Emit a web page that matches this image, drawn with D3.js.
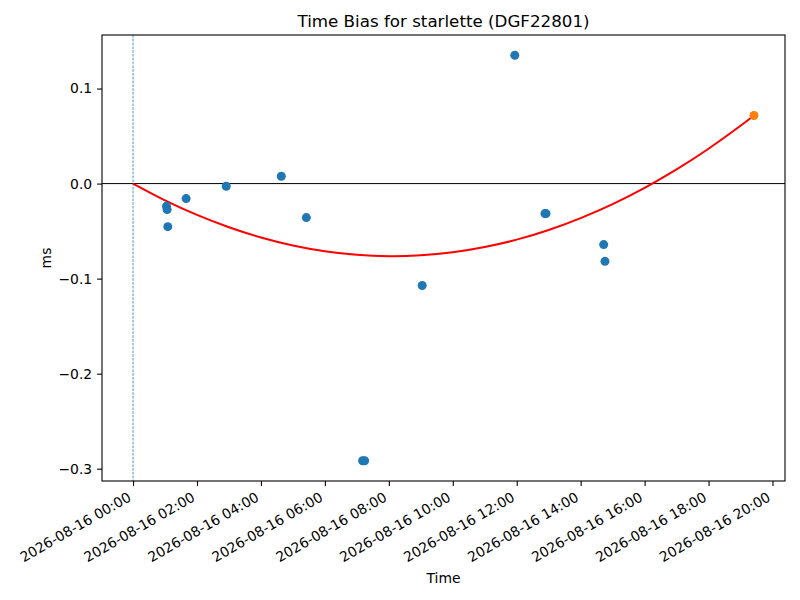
<!DOCTYPE html>
<html>
<head>
<meta charset="utf-8">
<script src="https://cdn.jsdelivr.net/npm/d3@7"></script>
<style>
    body { margin: 0; background: white; }
    text { font-family: "DejaVu Sans", sans-serif; }
</style>
</head>
<body>
<div id="chart"></div>
<script>
// observed time bias points
const biasTimes = [
    '2026-08-16T01:02:46Z', '2026-08-16T01:03:54Z', '2026-08-16T01:05:13Z',
    '2026-08-16T01:39:36Z', '2026-08-16T02:54:50Z', '2026-08-16T04:38:13Z',
    '2026-08-16T05:25:12Z', '2026-08-16T07:10:48Z', '2026-08-16T07:14:35Z',
    '2026-08-16T09:02:38Z', '2026-08-16T11:56:24Z', '2026-08-16T12:53:00Z',
    '2026-08-16T12:55:00Z', '2026-08-16T14:43:12Z', '2026-08-16T14:45:36Z',
]
const biasValues = [
    -0.0239, -0.0274, -0.0453,
    -0.0158, -0.0028, 0.0077,
    -0.0358, -0.2916, -0.2916,
    -0.1072, 0.1350, -0.0316,
    -0.0316, -0.0642, -0.0818,
]

// predicted point
const predTimes = ['2026-08-16T19:25:12Z']
const predValues = [0.0716]

// fitted curve
const fitTimes = [
    '2026-08-16T00:00:00Z', '2026-08-16T01:00:00Z', '2026-08-16T02:00:00Z',
    '2026-08-16T03:00:00Z', '2026-08-16T04:00:00Z', '2026-08-16T05:00:00Z',
    '2026-08-16T06:00:00Z', '2026-08-16T07:00:00Z', '2026-08-16T08:00:00Z',
    '2026-08-16T09:00:00Z', '2026-08-16T10:00:00Z', '2026-08-16T11:00:00Z',
    '2026-08-16T12:00:00Z', '2026-08-16T13:00:00Z', '2026-08-16T14:00:00Z',
    '2026-08-16T15:00:00Z', '2026-08-16T16:00:00Z', '2026-08-16T17:00:00Z',
    '2026-08-16T18:00:00Z', '2026-08-16T19:00:00Z', '2026-08-16T19:25:12Z',
]
const fitValues = [
    0.0, -0.0177, -0.0330,
    -0.0460, -0.0567, -0.0651,
    -0.0712, -0.0750, -0.0764,
    -0.0755, -0.0723, -0.0668,
    -0.0590, -0.0488, -0.0363,
    -0.0216, -0.0045, 0.0150,
    0.0367, 0.0608, 0.0716,
]

const refTime = ['2026-08-16T00:00:00Z']
const yTicks = [-0.3, -0.2, -0.1, 0.0, 0.1]
const xTickStart = '2026-08-16T00:00:00Z'
const xTickEnd = '2026-08-16T20:00:00Z'

const titleText = 'Time Bias for starlette (DGF22801)'
const xLabelText = 'Time'
const yLabelText = 'ms'

const CONFIG = {
    width: 800,
    height: 600,
    blue: '#1f77b4',
    orange: '#ff7f0e',
    fitColor: '#ff0000',
    fontSize: 13.9,
    titleSize: 16.7,
    tickLen: 4.9,
    dotRadius: 4.5,
    margin: { top: 35, right: 15, bottom: 119, left: 102 },
}

const parse = s => new Date(s)
const points = biasTimes.map((t, i) => ({ t: parse(t), v: biasValues[i] }))
const preds = predTimes.map((t, i) => ({ t: parse(t), v: predValues[i] }))
const fit = fitTimes.map((t, i) => ({ t: parse(t), v: fitValues[i] }))

const svg = d3.select('#chart')
    .append('svg')
    .attr('width', CONFIG.width)
    .attr('height', CONFIG.height)
    .style('background-color', 'white')

const x0 = CONFIG.margin.left
const x1 = CONFIG.width - CONFIG.margin.right
const y0 = CONFIG.margin.top
const y1 = CONFIG.height - CONFIG.margin.bottom

/**
 * Scales, with matplotlib style 5% padding
 */
const allT = [...fit, ...points, ...preds].map(d => +d.t)
const allV = [...fit, ...points, ...preds].map(d => d.v)
const [tMin, tMax] = d3.extent(allT)
const [vMin, vMax] = d3.extent(allV)
const tPad = (tMax - tMin) * 0.05
const vPad = (vMax - vMin) * 0.05

const x = d3.scaleUtc()
    .domain([new Date(tMin - tPad), new Date(tMax + tPad)])
    .range([x0, x1])
const y = d3.scaleLinear()
    .domain([vMin - vPad, vMax + vPad])
    .range([y1, y0])

const plot = svg.append('g')

/**
 * Reference lines
 */
plot.append('line')
    .attr('x1', x0).attr('x2', x1)
    .attr('y1', y(0)).attr('y2', y(0))
    .attr('stroke', 'black')
    .attr('stroke-width', 1)

plot.selectAll('.ref')
    .data(refTime.map(parse))
    .enter()
    .append('line')
    .attr('class', 'ref')
    .attr('x1', d => x(d)).attr('x2', d => x(d))
    .attr('y1', y0).attr('y2', y1)
    .attr('stroke', CONFIG.blue)
    .attr('stroke-width', 0.8)
    .attr('stroke-dasharray', '2.6,1.2')

/**
 * Fitted curve
 */
const line = d3.line()
    .x(d => x(d.t))
    .y(d => y(d.v))
    .curve(d3.curveNatural)

plot.append('path')
    .datum(fit)
    .attr('d', line)
    .attr('fill', 'none')
    .attr('stroke', CONFIG.fitColor)
    .attr('stroke-width', 2)

/**
 * Scatter points
 */
plot.selectAll('.pt')
    .data(points)
    .enter()
    .append('circle')
    .attr('class', 'pt')
    .attr('cx', d => x(d.t))
    .attr('cy', d => y(d.v))
    .attr('r', CONFIG.dotRadius)
    .attr('fill', CONFIG.blue)

plot.selectAll('.pred')
    .data(preds)
    .enter()
    .append('circle')
    .attr('class', 'pred')
    .attr('cx', d => x(d.t))
    .attr('cy', d => y(d.v))
    .attr('r', CONFIG.dotRadius)
    .attr('fill', CONFIG.orange)

/**
 * Axes frame
 */
svg.append('rect')
    .attr('x', x0).attr('y', y0)
    .attr('width', x1 - x0).attr('height', y1 - y0)
    .attr('fill', 'none')
    .attr('stroke', 'black')
    .attr('stroke-width', 1.1)

/**
 * Y axis
 */
const yAxis = svg.append('g')
    .attr('transform', `translate(${x0},0)`)
    .call(d3.axisLeft(y)
        .tickValues(yTicks)
        .tickFormat(d3.format('.1f'))
        .tickSize(CONFIG.tickLen)
        .tickPadding(4.9))
yAxis.select('.domain').remove()
yAxis.selectAll('line').attr('stroke-width', 1.1)
yAxis.selectAll('text')
    .attr('font-size', CONFIG.fontSize)
    .attr('font-family', 'DejaVu Sans')
    .attr('fill', 'black')

/**
 * X axis
 */
const xTicks = d3.utcHour.every(2).range(parse(xTickStart), new Date(+parse(xTickEnd) + 1))
const xAxis = svg.append('g')
    .attr('transform', `translate(0,${y1})`)
    .call(d3.axisBottom(x)
        .tickValues(xTicks)
        .tickFormat(d3.utcFormat('%Y-%m-%d %H:%M'))
        .tickSize(CONFIG.tickLen))
xAxis.select('.domain').remove()
xAxis.selectAll('line').attr('stroke-width', 1.1)
xAxis.selectAll('text')
    .attr('font-size', CONFIG.fontSize)
    .attr('font-family', 'DejaVu Sans')
    .attr('fill', 'black')
    .attr('text-anchor', 'end')
    .attr('dy', null)
    .attr('y', null)
    .attr('transform', 'translate(-1.5,19) rotate(-30)')

/**
 * Labels
 */
svg.append('text')
    .attr('x', (x0 + x1) / 2)
    .attr('y', 26.5)
    .attr('text-anchor', 'middle')
    .attr('font-size', CONFIG.titleSize)
    .text(titleText)

svg.append('text')
    .attr('x', (x0 + x1) / 2)
    .attr('y', 582.5)
    .attr('text-anchor', 'middle')
    .attr('font-size', CONFIG.fontSize)
    .text(xLabelText)

svg.append('text')
    .attr('transform', `translate(51,${(y0 + y1) / 2}) rotate(-90)`)
    .attr('text-anchor', 'middle')
    .attr('font-size', CONFIG.fontSize)
    .text(yLabelText)
</script>
</body>
</html>
